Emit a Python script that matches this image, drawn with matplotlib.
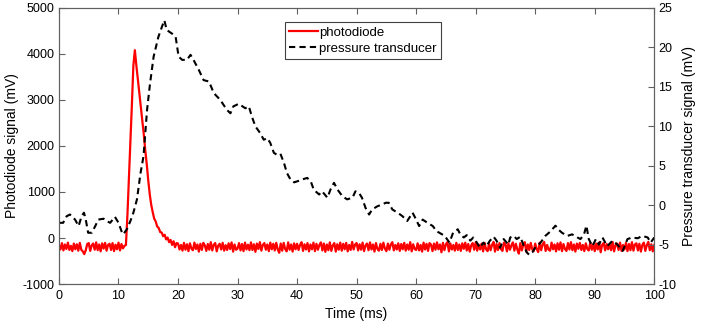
import numpy as np
import matplotlib
matplotlib.use("Agg")
import matplotlib.pyplot as plt

plt.rcParams['font.family'] = ['Liberation Sans', 'DejaVu Sans']
plt.rcParams['axes.unicode_minus'] = False
plt.rcParams['path.simplify'] = False

# photodiode signal (mV), sampled every 0.25 ms from 0 to 100 ms
pd_before = [-150, -250, -110, -270, -140, -240, -100, -260, -170, -285,
             -120, -245, -135, -275, -105, -255, -290, -350, -265, -130,
             -110, -280, -160, -120, -255, -95, -265, -140, -290, -115,
             -230, -105, -275, -150, -125, -260, -110, -285, -145, -245,
             -100, -270, -130, -225]
pd_spike = [-170, -150, 500, 1300, 2100, 2900, 3750, 4080, 3750, 3450,
            3150, 2850, 2550, 2250, 1900, 1600, 1250, 950, 720, 560,
            420, 360, 250, 220, 130, 120, 40, 70, -30, 10,
            -90, -40, -150, -70, -200, -110]
pd_after = [-120, -250, -150, -275, -105, -255, -135, -285, -115, -230,
            -265, -100, -240, -140, -295, -125, -260, -105, -160, -280,
            -130, -255, -90, -270, -145, -110, -290, -165, -125, -250,
            -105, -275, -155, -260, -115, -240, -95, -295, -140, -255,
            -230, -110, -270, -130, -285, -100, -250, -145, -265, -95,
            -260, -135, -300, -120, -240, -90, -275, -150, -110, -255,
            -140, -285, -100, -245, -125, -270, -105, -250, -320, -120,
            -275, -105, -240, -290, -95, -255, -140, -295, -115, -245,
            -125, -260, -150, -90, -280, -135, -250, -110, -290, -140,
            -245, -100, -285, -125, -255, -150, -95, -270, -120, -300,
            -140, -265, -95, -280, -160, -110, -295, -135, -255, -100,
            -275, -125, -245, -105, -290, -150, -260, -85, -250, -140,
            -110, -270, -135, -255, -100, -285, -160, -120, -265, -95,
            -250, -140, -295, -110, -240, -275, -125, -260, -100, -230,
            -285, -120, -255, -140, -90, -270, -150, -250, -115, -280,
            -130, -245, -105, -275, -140, -255, -90, -290, -135, -240,
            -260, -115, -270, -150, -295, -100, -250, -125, -280, -110,
            -145, -285, -120, -255, -95, -245, -140, -310, -105, -265,
            -135, -90, -290, -120, -250, -150, -275, -105, -260, -140,
            -280, -115, -235, -100, -270, -130, -295, -160, -110, -255,
            -95, -275, -140, -250, -120, -290, -105, -245, -285, -125,
            -265, -150, -85, -295, -130, -260, -110, -240, -280, -100,
            -135, -290, -115, -255, -160, -95, -275, -125, -250, -340,
            -110, -270, -150, -90, -295, -140, -260, -105, -245, -285,
            -120, -240, -305, -100, -265, -135, -85, -280, -150, -255,
            -275, -100, -245, -140, -290, -115, -255, -95, -285, -130,
            -240, -280, -110, -250, -90, -265, -140, -295, -120, -235,
            -105, -260, -150, -285, -115, -240, -270, -100, -255, -135,
            -285, -120, -250, -95, -310, -145, -110, -270, -130, -245,
            -140, -265, -85, -290, -155, -120, -260, -100, -280, -150,
            -250, -105, -285, -130, -265, -90, -275, -140, -115, -270,
            -125, -295, -150, -100, -280, -155, -85, -265, -135, -290,
            -150]
photodiode = pd_before + pd_spike + pd_after
pd_time = np.arange(len(photodiode)) * 0.25

# pressure transducer signal (mV)
pt_time = [0, 0.7, 1.3, 1.85, 2.7, 3.3, 3.8, 4.2, 4.5, 4.9, 5.5, 6.1, 6.6, 7.5,
           8.0, 8.6, 9.4, 10, 10.6, 10.8, 11.4, 12, 12.5, 13.1, 13.7, 14.2,
           14.8, 15.3, 15.9, 16.7, 17.3, 17.7, 18.1, 19, 19.6, 20.1, 20.7,
           21.5, 22.1, 22.6, 23.5, 24.3, 25.2, 26, 27.1, 28.2, 28.8, 29.3,
           30.2, 31.3, 31.9, 32.4, 33, 33.8, 34.4, 35, 35.5, 36.1, 36.6, 37.2,
           37.8, 38.3, 38.9, 39.5, 40, 40.8, 41.7, 42.3, 42.8, 43.7, 44.2,
           45.1, 45.6, 46.2, 46.8, 47.6, 48.4, 49.3, 49.8, 50.4, 50.9, 51.5,
           52.1, 52.6, 53.5, 54.3, 54.9, 55.4, 56, 56.9, 57.7, 58.5, 59.4,
           60, 60.5, 61.1, 61.9, 62.8, 63.4, 63.9, 64.8, 65.6, 66.2, 67,
           67.4, 68, 68.5, 69.1, 69.6, 70.2, 70.7, 71.3, 71.8, 72.4, 73,
           73.5, 74.1, 74.7, 75.5, 75.8, 76.4, 76.9, 77.5, 78.1, 78.6, 79,
           79.5, 80, 80.9, 81.7, 82.6, 83.4, 83.9, 84.5, 85.4, 86.2, 87.1,
           87.6, 88.2, 88.6, 89, 89.6, 90.2, 90.7, 91.3, 92.1, 93, 93.8,
           94.7, 95.5, 96.3, 97.2, 98, 98.9, 99.4, 100]
pressure = [-2.24, -2.24, -1.40, -1.19, -1.83, -2.65, -1.40, -0.96, -1.83, -3.50,
            -3.50, -2.65, -1.83, -1.72, -2.01, -2.24, -1.48, -2.24, -3.50, -3.70,
            -3.06, -2.01, -0.96, 0.73, 4.06, 6.19, 12.08, 15.43, 18.82, 21.32,
            22.61, 23.42, 22.20, 21.73, 21.32, 18.82, 18.41, 18.41, 19.05, 18.41,
            17.12, 15.84, 15.67, 14.21, 13.33, 12.08, 11.64, 12.52, 12.84, 12.28,
            12.52, 11.23, 9.98, 9.13, 8.29, 8.49, 7.88, 6.63, 6.39, 6.51,
            5.34, 4.06, 3.24, 2.89, 3.01, 3.24, 3.45, 3.01, 1.96, 1.35,
            1.75, 0.94, 1.96, 2.83, 1.96, 1.14, 0.73, 0.94, 1.75, 1.55,
            0.94, -0.35, -1.19, -0.55, -0.14, 0.09, 0.30, 0.30, -0.55, -0.96,
            -1.40, -2.01, -0.96, -1.83, -2.65, -1.83, -2.24, -2.65, -3.29, -3.50,
            -3.90, -4.75, -3.50, -3.06, -3.7, -4.1, -3.8, -4.5, -4.1, -4.75,
            -5.4, -4.75, -5.2, -4.5, -4.0, -4.5, -5.4, -4.3, -5.0, -4.1,
            -3.9, -4.3, -4.0, -5.2, -6.0, -6.3, -6.0, -5.4, -4.75, -3.9,
            -3.3, -2.6, -3.1, -3.5, -3.9, -3.7, -4.1, -4.3, -3.7, -2.6,
            -4.3, -5.2, -4.3, -5.0, -4.1, -5.2, -4.5, -5.0, -5.8, -4.3,
            -4.1, -4.2, -3.9, -4.1, -4.75, -4.1]

axis_color = '#606060'

fig = plt.figure(figsize=(7.02, 3.28), dpi=100)
ax = fig.add_axes([0.084, 0.134, 0.848, 0.842])
ax2 = ax.twinx()

l1, = ax.plot(pd_time, photodiode, color='red', lw=1.6, label='photodiode')
l2, = ax2.plot(pt_time, pressure, color='black', lw=1.5, ls=(0, (3, 2)),
               label='pressure transducer')

ax.set_xlim(0, 100)
ax.set_ylim(-1000, 5000)
ax2.set_ylim(-10, 25)
ax.set_xticks(range(0, 101, 10))
ax.set_yticks(range(-1000, 5001, 1000))
ax2.set_yticks(range(-10, 26, 5))

ax.set_xlabel('Time (ms)', fontsize=10, labelpad=4)
ax.set_ylabel('Photodiode signal (mV)', fontsize=10, labelpad=3)
ax2.set_ylabel('Pressure transducer signal (mV)', fontsize=10, labelpad=4)

for a in (ax, ax2):
    for s in a.spines.values():
        s.set_color(axis_color)
    a.tick_params(direction='in', color=axis_color, labelsize=9, length=4, pad=3)
ax.tick_params(axis='x', top=True, pad=4)
ax.tick_params(axis='y', right=False)

leg = ax2.legend(handles=[l1, l2], loc='upper left', bbox_to_anchor=(0.379, 0.95),
                 fontsize=9.5, fancybox=False, edgecolor='#404040', framealpha=1,
                 handlelength=2.2, handletextpad=0.05, borderpad=0.35,
                 labelspacing=0.3, borderaxespad=0)
leg.get_frame().set_linewidth(0.8)

fig.savefig('out.png', dpi=100)
